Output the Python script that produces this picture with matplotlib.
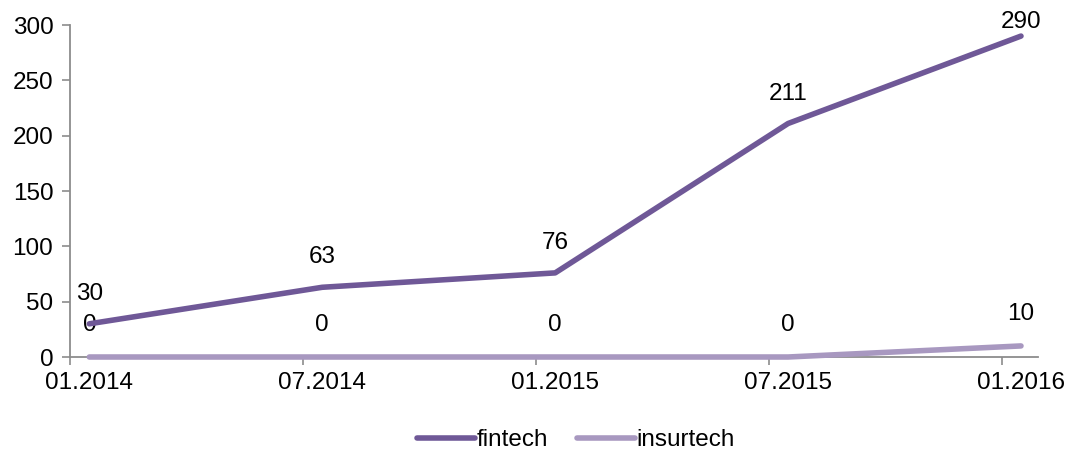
import matplotlib.pyplot as plt
import numpy as np

plt.rcParams['font.family'] = ['Liberation Sans', 'DejaVu Sans']

dates = ['01.2014', '07.2014', '01.2015', '07.2015', '01.2016']
fintech = [30, 63, 76, 211, 290]
insurtech = [0, 0, 0, 0, 10]

c_fin = '#6f5897'
c_ins = '#a898c0'
fs = 17.5

fig = plt.figure(figsize=(10.65, 4.53), dpi=100)
ax = fig.add_axes([70 / 1065, 1 - 357 / 453, (1038 - 70) / 1065, (357 - 25) / 453])

x = np.arange(len(dates))
ax.plot(x, insurtech, color=c_ins, linewidth=4, solid_capstyle='round', label='insurtech',
        zorder=3, clip_on=False)
ax.plot(x, fintech, color=c_fin, linewidth=4, solid_capstyle='round', label='fintech',
        zorder=4, clip_on=False)

# data labels above the points, kept inside the plot area
for xi, v in zip(x, fintech):
    ax.text(xi, min(v + 27, 303), str(v), ha='center', va='center', fontsize=fs)
for xi, v in zip(x, insurtech):
    ax.text(xi, v + 29, str(v), ha='center', va='center', fontsize=fs)

ax.set_xlim(-0.082, 4.073)
ax.set_ylim(0, 300)
ax.set_yticks(np.arange(0, 301, 50))
ax.set_xticks(x)
ax.set_xticklabels(dates)
ax.set_xticks(x - 0.083, minor=True)
ax.tick_params(axis='x', which='major', length=0, labelsize=fs, pad=11)
ax.tick_params(axis='x', which='minor', length=6, width=1.2, color='#8c8c8c', direction='out')
ax.tick_params(axis='y', length=6, width=1.2, color='#8c8c8c', labelsize=fs, pad=6)

for s in ['top', 'right']:
    ax.spines[s].set_visible(False)
for s in ['left', 'bottom']:
    ax.spines[s].set_color('#8c8c8c')
    ax.spines[s].set_linewidth(1.3)

h, l = ax.get_legend_handles_labels()
fig.legend(h[::-1], l[::-1], loc='center', bbox_to_anchor=(576 / 1065, 1 - 440 / 453),
           ncol=2, frameon=False, fontsize=fs, handlelength=2.4, handletextpad=0.05,
           columnspacing=1.2)

fig.savefig('out.png', dpi=100)
